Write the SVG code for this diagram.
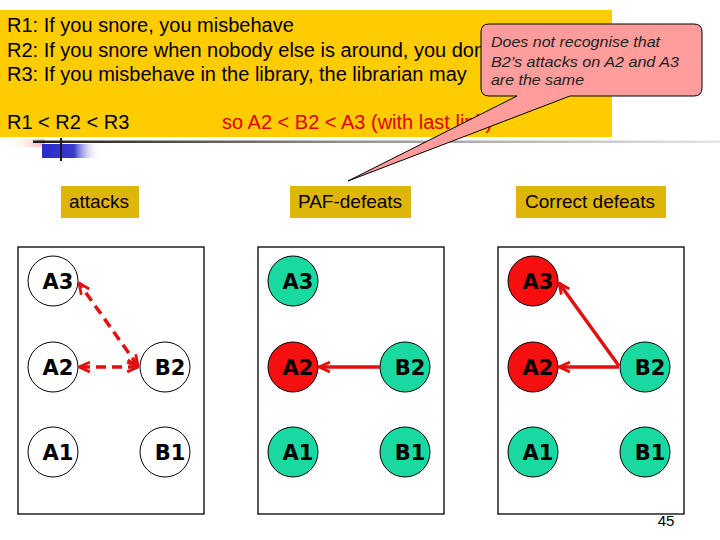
<svg xmlns="http://www.w3.org/2000/svg" width="720" height="540" viewBox="0 0 720 540">
<style>
.main{font-family:"Liberation Sans",Arial,sans-serif;font-size:20px;fill:#000}
.red{fill:#e00000}
.lbl{font-family:"Liberation Sans",Arial,sans-serif;font-size:19px;fill:#000;text-anchor:middle}
.lblbox{fill:#e0b50a}
.panel{fill:#fff;stroke:#000;stroke-width:1.3}
.c{stroke:#000;stroke-width:1}
.white{fill:#fff}
.green{fill:#1ad9a0}
.rednode{fill:#f50f0f}
.nt{font-family:"DejaVu Sans",Verdana,sans-serif;font-weight:bold;font-size:21px;fill:#000;text-anchor:middle}
.arrow{stroke:#e01010;stroke-width:3.5;fill:none}
.dash{stroke-dasharray:10 6}
.callt{font-family:"Liberation Sans",Arial,sans-serif;font-style:italic;font-size:15px;fill:#222}
</style>
<defs>
<marker id="ah" viewBox="0 0 12 12" refX="11" refY="6" markerWidth="13" markerHeight="13" markerUnits="userSpaceOnUse" orient="auto-start-reverse">
<path d="M1,1.5 L11,6 L1,10.5" fill="none" stroke="#e01010" stroke-width="2.6"/>
</marker>
<linearGradient id="gline" x1="33" y1="0" x2="720" y2="0" gradientUnits="userSpaceOnUse">
<stop offset="0" stop-color="#1a1a1a"/>
<stop offset="0.45" stop-color="#909090"/>
<stop offset="1" stop-color="#e6e6e6"/>
</linearGradient>
<linearGradient id="gblue" x1="42" y1="0" x2="100" y2="0" gradientUnits="userSpaceOnUse">
<stop offset="0" stop-color="#2a2ac8"/>
<stop offset="0.55" stop-color="#3a3ad0"/>
<stop offset="1" stop-color="#ffffff" stop-opacity="0"/>
</linearGradient>
<linearGradient id="gpink" x1="5" y1="0" x2="45" y2="0" gradientUnits="userSpaceOnUse">
<stop offset="0" stop-color="#ffffff" stop-opacity="0"/>
<stop offset="1" stop-color="#f4b8b8"/>
</linearGradient>
</defs>

<g id="header">
<rect x="0" y="10" width="612" height="127" fill="#ffcc00"/>
<text class="main" x="7" y="32">R1: If you snore, you misbehave</text>
<text class="main" x="7" y="57">R2: If you snore when nobody else is around, you don</text>
<text class="main" x="7" y="81">R3: If you misbehave in the library, the librarian may</text>
<text class="main" x="7" y="129">R1 &lt; R2 &lt; R3</text>
<text class="main red" x="222" y="129">so A2 &lt; B2 &lt; A3 (with last link)</text>
</g>

<g id="decoration">
<rect x="5" y="139" width="40" height="8" fill="url(#gpink)"/>
<rect x="33" y="140.5" width="687" height="2.5" fill="url(#gline)"/>
<rect x="42" y="144" width="58" height="14" fill="url(#gblue)"/>
<rect x="60" y="138" width="2" height="23" fill="#1a1a1a"/>
</g>

<g id="label-attacks">
<rect class="lblbox" x="61" y="186" width="78" height="32"/>
<text class="lbl" x="99" y="208">attacks</text>
</g>
<g id="label-paf">
<rect class="lblbox" x="290" y="186" width="121" height="32"/>
<text class="lbl" x="350" y="208">PAF-defeats</text>
</g>
<g id="label-correct">
<rect class="lblbox" x="516" y="186" width="150" height="32"/>
<text class="lbl" x="590" y="208">Correct defeats</text>
</g>

<g id="panel-1"><rect class="panel" x="18" y="247" width="186" height="267"/></g>
<g id="panel-2"><rect class="panel" x="258" y="247" width="186" height="267"/></g>
<g id="panel-3"><rect class="panel" x="498" y="247" width="186" height="267"/></g>

<g id="p1-A3"><circle class="c white" cx="53" cy="281" r="25"/><text class="nt" x="58" y="289">A3</text></g>
<g id="p1-A2"><circle class="c white" cx="53" cy="367" r="25"/><text class="nt" x="58" y="375">A2</text></g>
<g id="p1-A1"><circle class="c white" cx="53" cy="452" r="25"/><text class="nt" x="58" y="460">A1</text></g>
<g id="p1-B2"><circle class="c white" cx="165" cy="367" r="25"/><text class="nt" x="170" y="375">B2</text></g>
<g id="p1-B1"><circle class="c white" cx="165" cy="452" r="25"/><text class="nt" x="170" y="460">B1</text></g>

<g id="p2-A3"><circle class="c green" cx="293" cy="281" r="25"/><text class="nt" x="298" y="289">A3</text></g>
<g id="p2-A2"><circle class="c rednode" cx="293" cy="367" r="25"/><text class="nt" x="298" y="375">A2</text></g>
<g id="p2-A1"><circle class="c green" cx="293" cy="452" r="25"/><text class="nt" x="298" y="460">A1</text></g>
<g id="p2-B2"><circle class="c green" cx="405" cy="367" r="25"/><text class="nt" x="410" y="375">B2</text></g>
<g id="p2-B1"><circle class="c green" cx="405" cy="452" r="25"/><text class="nt" x="410" y="460">B1</text></g>

<g id="p3-A3"><circle class="c rednode" cx="533" cy="281" r="25"/><text class="nt" x="538" y="289">A3</text></g>
<g id="p3-A2"><circle class="c rednode" cx="533" cy="367" r="25"/><text class="nt" x="538" y="375">A2</text></g>
<g id="p3-A1"><circle class="c green" cx="533" cy="452" r="25"/><text class="nt" x="538" y="460">A1</text></g>
<g id="p3-B2"><circle class="c green" cx="645" cy="367" r="25"/><text class="nt" x="650" y="375">B2</text></g>
<g id="p3-B1"><circle class="c green" cx="645" cy="452" r="25"/><text class="nt" x="650" y="460">B1</text></g>

<g id="connectors">
<line class="arrow dash" x1="138" y1="366" x2="79" y2="283" marker-start="url(#ah)" marker-end="url(#ah)"/>
<line class="arrow dash" x1="138" y1="367" x2="79" y2="367" marker-start="url(#ah)" marker-end="url(#ah)"/>
<line class="arrow" x1="380" y1="367" x2="319" y2="367" marker-end="url(#ah)"/>
<line class="arrow" x1="619" y1="366" x2="559" y2="283" marker-end="url(#ah)"/>
<line class="arrow" x1="619" y1="367" x2="559" y2="367" marker-end="url(#ah)"/>
</g>

<g id="callout">
<path d="M489,24 H694 Q702,24 702,32 V88 Q702,96 694,96 H570 L348,181 L517,96 H489 Q481,96 481,88 V32 Q481,24 489,24 Z" fill="#ff9c9c" stroke="#000" stroke-width="1"/>
<text class="callt" x="491" y="47" textLength="169" lengthAdjust="spacingAndGlyphs">Does not recognise that</text>
<text class="callt" x="491" y="67" textLength="188" lengthAdjust="spacingAndGlyphs">B2’s attacks on A2 and A3</text>
<text class="callt" x="491" y="85" textLength="93" lengthAdjust="spacingAndGlyphs">are the same</text>
</g>

<g id="page-number">
<text x="666" y="526" font-family="Liberation Sans, Arial, sans-serif" font-size="15" text-anchor="middle" fill="#000">45</text>
</g>
</svg>
